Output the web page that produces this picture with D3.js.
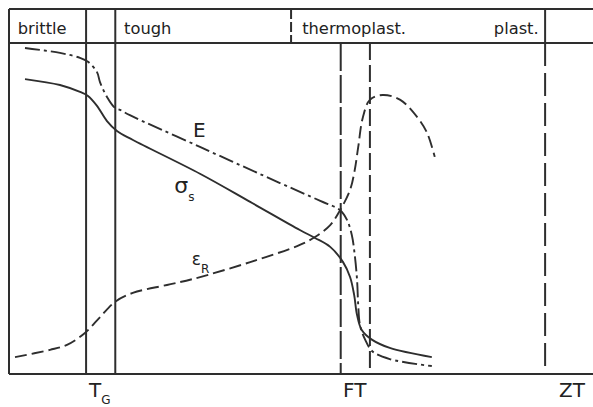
<!DOCTYPE html>
<html>
<head>
<meta charset="utf-8">
<script src="https://cdn.jsdelivr.net/npm/d3@7"></script>
<style>
  body { margin: 0; background: #fff; }
  svg { display: block; }
  text { font-family: "DejaVu Sans", sans-serif; fill: #222; }
</style>
</head>
<body>
<svg id="chart"></svg>
<script>
// temperature axis 0..100, property axis 0..100 (schematic)
const regions = [
  {label: "brittle", x: 1.5, anchor: "start"},
  {label: "tough", x: 19.7, anchor: "start"},
  {label: "thermoplast.", x: 50.2, anchor: "start"},
  {label: "plast.", x: 90.7, anchor: "end"}
];

// vertical boundaries: x, style, whether it crosses the header band
const bounds = [
  {x: 13.2, dash: null, header: true, body: true},
  {x: 18.2, dash: null, header: true, body: true},
  {x: 48.3, dash: "10,3", header: true, body: false},
  {x: 56.8, dash: "28,4", header: false, body: true},
  {x: 61.8, dash: "17,5", header: false, body: true},
  {x: 91.8, dash: "23,7", header: true, body: true}
];

const tempLabels = [
  {main: "T", sub: "G", x: 13.7, anchor: "start"},
  {main: "FT", sub: "", x: 59.2, anchor: "middle"},
  {main: "ZT", sub: "", x: 96.4, anchor: "middle"}
];

// E modulus (dash-dot)
const E = [
  [2.74, 98.5], [8.73, 97.0], [12.16, 95.5], [13.53, 94.3], [15.07, 91.2],
  [15.58, 88.2], [16.78, 83.7], [18.15, 80.4], [19.0, 79.8], [20.7, 78.2],
  [32.7, 68.6], [46.4, 57.7], [53.3, 52.3], [56.7, 49.5], [57.9, 46.5],
  [58.7, 42.0], [59.2, 36.0], [59.6, 28.4], [59.8, 20.8], [60.1, 14.8],
  [61.0, 10.3], [62.2, 6.9], [65.2, 4.5], [72.4, 2.4]
];

// yield stress sigma_s (solid)
const sigmaS = [
  [2.74, 89.1], [8.73, 87.3], [12.16, 85.2], [13.53, 84.0], [15.07, 81.0],
  [16.78, 76.4], [18.49, 73.4], [21.23, 70.7], [32.7, 60.5], [41.3, 52.0],
  [49.8, 43.5], [52.4, 41.1], [55.0, 38.4], [57.2, 33.8], [58.4, 29.3],
  [59.1, 23.9], [59.6, 17.8], [60.4, 13.3], [62.2, 10.3], [65.2, 7.9],
  [72.4, 5.1]
];

// elongation at break eps_R (dashed)
const epsR = [
  [1.03, 5.1], [7.02, 7.3], [9.93, 8.8], [13.0, 12.4], [15.6, 17.2],
  [18.15, 21.8], [21.2, 24.5], [27.05, 26.9], [31.5, 28.7], [41.3, 33.8],
  [49.8, 39.0], [52.4, 41.4], [55.0, 45.0], [56.7, 49.5], [58.4, 55.6],
  [59.2, 61.6], [59.8, 68.6], [60.6, 77.6], [61.8, 82.8], [64.0, 84.3],
  [67.0, 82.8], [69.9, 77.6], [71.6, 72.8], [72.9, 65.6]
];

const curveLabels = [
  {main: "E", sub: "", x: 31.5, y: 71.6, size: 20},
  {main: "σ", sub: "s", x: 28.3, y: 54.7, size: 22},
  {main: "ε", sub: "R", x: 31.3, y: 32.9, size: 17}
];

const W = 593, H = 407;
const mLeft = 9, mTop = 9, headerBottom = 43, mBottom = 374;
const ink = "#2e2e2e";

const svg = d3.select("#chart").attr("width", W).attr("height", H);

const x = d3.scaleLinear().domain([0, 100]).range([mLeft, W]);
const y = d3.scaleLinear().domain([0, 100]).range([mBottom, headerBottom]);

// frame
const frame = svg.append("g").attr("stroke", ink).attr("stroke-width", 2).attr("fill", "none");
frame.append("line").attr("x1", mLeft).attr("x2", W).attr("y1", mTop).attr("y2", mTop);
frame.append("line").attr("x1", mLeft).attr("x2", W).attr("y1", headerBottom).attr("y2", headerBottom);
frame.append("line").attr("x1", mLeft).attr("x2", W).attr("y1", mBottom).attr("y2", mBottom);
frame.append("line").attr("x1", mLeft).attr("x2", mLeft).attr("y1", mTop).attr("y2", mBottom);

// boundaries
bounds.forEach(b => {
  if (b.header) {
    frame.append("line")
      .attr("x1", x(b.x)).attr("x2", x(b.x))
      .attr("y1", mTop).attr("y2", headerBottom)
      .attr("stroke-dasharray", b.body ? null : b.dash);
  }
  if (b.body) {
    frame.append("line")
      .attr("x1", x(b.x)).attr("x2", x(b.x))
      .attr("y1", headerBottom).attr("y2", mBottom)
      .attr("stroke-dasharray", b.dash);
  }
});

// region names
svg.append("g").selectAll("text").data(regions).join("text")
  .attr("x", d => x(d.x)).attr("y", 34)
  .attr("text-anchor", d => d.anchor)
  .style("font-size", "16.3px")
  .text(d => d.label);

// curves
const line = d3.line().x(d => x(d[0])).y(d => y(d[1])).curve(d3.curveCatmullRom.alpha(0.5));
const curves = [
  {data: E, dash: "15,4,3,4"},
  {data: sigmaS, dash: null},
  {data: epsR, dash: "12,5"}
];
svg.append("g").selectAll("path").data(curves).join("path")
  .attr("d", d => line(d.data))
  .attr("fill", "none")
  .attr("stroke", ink)
  .attr("stroke-width", 1.9)
  .attr("stroke-dasharray", d => d.dash);

// curve labels
const cl = svg.append("g").selectAll("text").data(curveLabels).join("text")
  .attr("x", d => x(d.x)).attr("y", d => y(d.y))
  .style("font-size", d => d.size + "px");
cl.append("tspan").text(d => d.main);
cl.append("tspan").attr("dy", 8).style("font-size", "12px").text(d => d.sub);

// temperature labels
const tl = svg.append("g").selectAll("text").data(tempLabels).join("text")
  .attr("x", d => x(d.x)).attr("y", 397)
  .attr("text-anchor", d => d.anchor)
  .style("font-size", "20px");
tl.append("tspan").text(d => d.main);
tl.append("tspan").attr("dy", 7).style("font-size", "12px").text(d => d.sub);
</script>
</body>
</html>
